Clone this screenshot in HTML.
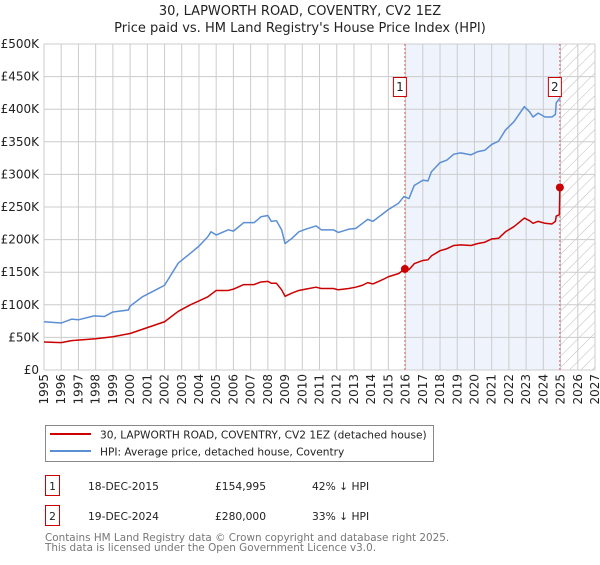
<!DOCTYPE html>
<html><head><meta charset="utf-8"><style>
body{margin:0;background:#fff;font-family:"Liberation Sans","DejaVu Sans",sans-serif}
svg text{font-family:"DejaVu Sans","Liberation Sans",sans-serif}
</style></head><body>
<svg id="c" width="600" height="560" xmlns="http://www.w3.org/2000/svg">
<defs><pattern id="hatch" width="8" height="8" patternUnits="userSpaceOnUse" patternTransform="rotate(45)"><line x1="0" y1="0" x2="0" y2="8" stroke="#bbb" stroke-width="1"/></pattern></defs>
<text x="300" y="15" text-anchor="middle" font-size="13" fill="#222">30, LAPWORTH ROAD, COVENTRY, CV2 1EZ</text>
<text x="300" y="32" text-anchor="middle" font-size="13" fill="#222">Price paid vs. HM Land Registry's House Price Index (HPI)</text>
<g id="plot"></g>
<g id="legend">
<rect x="45.5" y="425.5" width="388" height="36" fill="#fff" stroke="#888"/>
<line x1="50" y1="434" x2="91" y2="434" stroke="#cc0000" stroke-width="2"/>
<text x="100" y="438.5" font-size="10.6" fill="#222">30, LAPWORTH ROAD, COVENTRY, CV2 1EZ (detached house)</text>
<line x1="50" y1="451" x2="91" y2="451" stroke="#5b8fd4" stroke-width="2"/>
<text x="100" y="455.5" font-size="10.6" fill="#222">HPI: Average price, detached house, Coventry</text>
</g>
<g font-size="10.7" fill="#222">
<rect x="45.5" y="475.5" width="14" height="20" fill="#fff" stroke="#cc0000"/><text x="52.5" y="490" text-anchor="middle">1</text>
<text x="88" y="490">18-DEC-2015</text><text x="215" y="490">£154,995</text><text x="312" y="490">42% ↓ HPI</text>
<rect x="45.5" y="505.5" width="14" height="20" fill="#fff" stroke="#cc0000"/><text x="52.5" y="520" text-anchor="middle">2</text>
<text x="88" y="520">19-DEC-2024</text><text x="215" y="520">£280,000</text><text x="312" y="520">33% ↓ HPI</text>
</g>
<text x="45" y="541" font-size="10.4" fill="#777">Contains HM Land Registry data © Crown copyright and database right 2025.</text>
<text x="45" y="551" font-size="10.4" fill="#777">This data is licensed under the Open Government Licence v3.0.</text>
</svg>
<script>
const yTicks=[0,50,100,150,200,250,300,350,400,450,500];
const yTickLabels=["£0","£50K","£100K","£150K","£200K","£250K","£300K","£350K","£400K","£450K","£500K"];
const xYears=[1995,1996,1997,1998,1999,2000,2001,2002,2003,2004,2005,2006,2007,2008,2009,2010,2011,2012,2013,2014,2015,2016,2017,2018,2019,2020,2021,2022,2023,2024,2025,2026,2027];
const hpiT=[1995,1996,1996.6,1997,1997.9,1998.5,1999,1999.9,2000,2000.7,2001.5,2002,2002.8,2003.5,2004,2004.5,2004.7,2005,2005.7,2006,2006.6,2007.2,2007.6,2008,2008.2,2008.5,2008.8,2009,2009.4,2009.8,2010.2,2010.8,2011.1,2011.8,2012.1,2012.7,2013.1,2013.5,2013.8,2014.1,2014.7,2015,2015.6,2015.9,2016.2,2016.5,2017,2017.3,2017.5,2018,2018.4,2018.8,2019.2,2019.8,2020.2,2020.6,2021,2021.4,2021.8,2022.3,2022.9,2023.2,2023.4,2023.7,2024.1,2024.5,2024.7,2024.75,2024.96];
const hpiV=[74,72,78,77,83,82,89,92,98,112,123,130,164,179,190,204,212,207,215,213,226,226,235,237,228,229,215,194,202,212,216,221,215,215,211,216,217,225,231,228,240,246,256,266,263,283,291,290,304,318,322,331,333,330,335,337,346,351,368,381,404,396,388,394,388,388,392,410,417];
const redT=[1995,1996,1996.6,1998,1999,2000,2001,2002,2002.8,2003.5,2004,2004.5,2005,2005.7,2006,2006.6,2007.2,2007.6,2008,2008.2,2008.5,2008.8,2009,2009.4,2009.8,2010.2,2010.8,2011.1,2011.8,2012.1,2012.7,2013.1,2013.5,2013.8,2014.1,2014.7,2015,2015.6,2015.96,2016.2,2016.5,2017,2017.3,2017.5,2018,2018.4,2018.8,2019.2,2019.8,2020.2,2020.6,2021,2021.4,2021.8,2022.3,2022.9,2023.2,2023.4,2023.7,2024.1,2024.5,2024.7,2024.75,2024.93,2024.96];
const redV=[43,42,45,48,51,56,65,74,90,100,106,112,122,122,124,131,131,135,136,133,133,123,113,118,122,124,127,125,125,123,125,127,130,134,132,139,143,148,155,154,163,168,169,175,183,186,191,192,191,194,196,201,202,212,220,233,229,225,228,225,224,228,236,238,280];
const saleT=[2015.96,2024.96];
const saleV=[154.995,280];
const saleLabels=["1","2"];
const X0=44,X1=595,Y0=370,Y1=44;
const sx=t=>X0+(t-1995)/32*(X1-X0);
const sy=v=>Y0-v/500*(Y0-Y1);
const NS="http://www.w3.org/2000/svg";
const g=document.getElementById('plot');
function mk(tag,a,p){const e=document.createElementNS(NS,tag);for(const k in a)e.setAttribute(k,a[k]);(p||g).appendChild(e);return e;}
let r=mk('rect',{x:sx(saleT[0]),y:Y1,width:sx(saleT[1])-sx(saleT[0]),height:Y0-Y1,fill:'#eef3fc'});


r=mk('rect',{x:sx(2025),y:Y1,width:X1-sx(2025),height:Y0-Y1,fill:'url(#hatch)'});


xYears.forEach(y=>{const l=mk('line',{x1:sx(y),x2:sx(y),y1:Y1,y2:Y0,stroke:'#ccc','stroke-width':1});


const t=mk('text',{x:0,y:0,'font-size':12,fill:'#222','text-anchor':'end',transform:`translate(${sx(y)+4},${Y0+4}) rotate(-90)`});t.textContent=y;

});
yTicks.forEach((v,i)=>{const l=mk('line',{x1:X0,x2:X1,y1:sy(v),y2:sy(v),stroke:'#ccc','stroke-width':1});


const t=mk('text',{x:X0-5,y:sy(v)+4,'font-size':12,fill:'#222','text-anchor':'end'});t.textContent=yTickLabels[i];

});
saleT.forEach((t,i)=>{const l=mk('line',{x1:sx(t),x2:sx(t),y1:Y1,y2:Y0,stroke:'#e06060','stroke-width':1,'stroke-dasharray':'2,2'});


const b=mk('rect',{x:sx(t)-11.5,y:77.5,width:13,height:19,fill:'#fff',stroke:'#cc0000'});


const tx=mk('text',{x:sx(t)-5,y:91,'font-size':12,fill:'#222','text-anchor':'middle'});tx.textContent=saleLabels[i];

});
function line(T,V,c,n){const p=mk('polyline',{points:T.map((t,i)=>sx(t)+','+sy(V[i])).join(' '),fill:'none',stroke:c,'stroke-width':1.5,'stroke-linejoin':'round'});

}
line(hpiT,hpiV,'#5b8fd4','hpi-line');
line(redT,redV,'#cc0000','property-price-line');
saleT.forEach((t,i)=>{const c=mk('circle',{cx:sx(t),cy:sy(saleV[i]),r:4,fill:'#cc0000'});

});
</script>
</body></html>
